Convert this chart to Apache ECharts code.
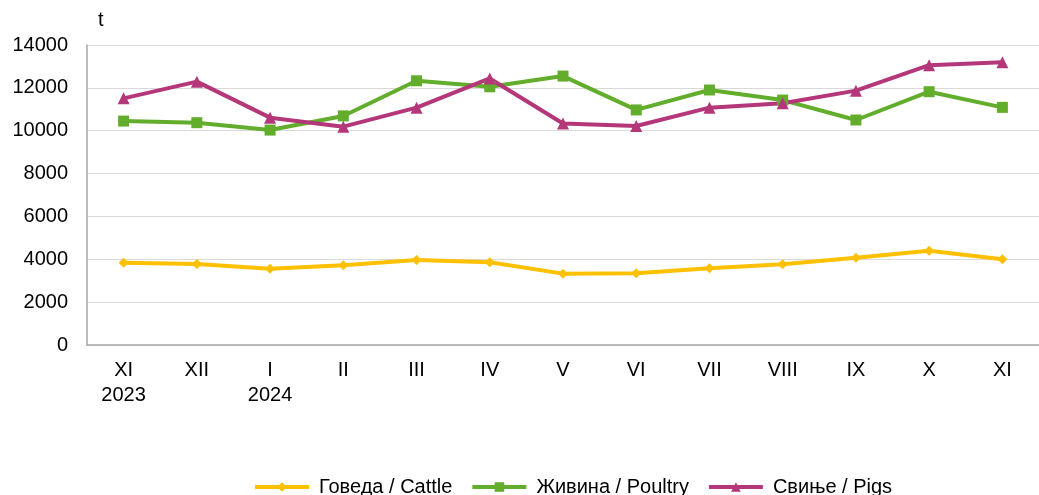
<!DOCTYPE html>
<html>
<head>
<meta charset="utf-8">
<script src="https://cdn.jsdelivr.net/npm/echarts@6/dist/echarts.min.js"></script>
<style>
  html, body { margin: 0; padding: 0; background: #fff; }
  #chart { width: 1039px; height: 495px; }
</style>
</head>
<body>
<div id="chart"></div>
<script>
const months = ["XI\n2023", "XII", "I\n2024", "II", "III", "IV", "V", "VI", "VII", "VIII", "IX", "X", "XI"];
const cattle = [3840, 3780, 3560, 3720, 3970, 3860, 3330, 3345, 3580, 3770, 4070, 4400, 4000];
const poultry = [10450, 10375, 10030, 10690, 12330, 12050, 12550, 10970, 11900, 11430, 10500, 11820, 11090];
const pigs = [11510, 12290, 10610, 10190, 11075, 12440, 10340, 10220, 11075, 11280, 11870, 13060, 13190];

const font = "'Liberation Sans', Arial, sans-serif";
const chart = echarts.init(document.getElementById("chart"));

const line = (name, data, color, symbol, size) => ({
  name,
  type: "line",
  data,
  symbol,
  symbolSize: size,
  lineStyle: { color, width: 4 },
  itemStyle: { color },
  animation: false,
});

chart.setOption({
  textStyle: { fontFamily: font },
  grid: { left: 87, right: -9, top: 45, bottom: 150 },
  legend: {
    top: 477,
    left: 253,
    padding: 0,
    itemWidth: 54,
    itemHeight: 12,
    itemGap: 18,
    lineStyle: { width: 4 },
    textStyle: { fontSize: 20, color: "#000", fontFamily: font, padding: [0, 0, 0, 5] },
    data: ["Говеда / Cattle", "Живина / Poultry", "Свиње / Pigs"],
  },
  xAxis: {
    type: "category",
    data: months,
    boundaryGap: true,
    axisLine: { lineStyle: { color: "#a6a6a6", width: 1.5 } },
    axisTick: { length: 6, lineStyle: { color: "#a6a6a6" } },
    axisLabel: { color: "#000", fontSize: 20, margin: 13, lineHeight: 25, fontFamily: font },
  },
  yAxis: {
    type: "value",
    min: 0,
    max: 14000,
    interval: 2000,
    name: "t",
    nameLocation: "end",
    nameGap: 15,
    nameTextStyle: { color: "#000", fontSize: 20, align: "left", padding: [0, 0, 0, 11], fontFamily: font },
    axisLine: { show: true, lineStyle: { color: "#a6a6a6", width: 1.5 } },
    axisTick: { show: false },
    splitLine: { lineStyle: { color: "#d9d9d9", width: 1 } },
    axisLabel: { color: "#000", fontSize: 20, margin: 19, fontFamily: font, formatter: (v) => String(v) },
  },
  series: [
    line("Говеда / Cattle", cattle, "#ffc000", "diamond", 10),
    line("Живина / Poultry", poultry, "#62ad2c", "rect", 11),
    line("Свиње / Pigs", pigs, "#b4377a", "triangle", 12),
  ],
});
</script>
</body>
</html>
